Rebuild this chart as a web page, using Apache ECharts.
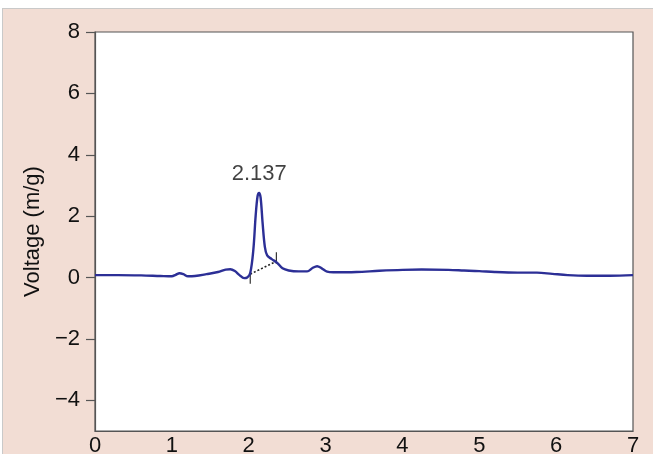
<!DOCTYPE html>
<html>
<head>
<meta charset="utf-8">
<script src="https://cdn.jsdelivr.net/npm/echarts@6/dist/echarts.min.js"></script>
<style>
  html, body { margin: 0; padding: 0; background: #ffffff; width: 653px; height: 454px; overflow: hidden; }
  #frame { position: absolute; left: 2px; top: 8px; right: 0; bottom: 0; background: #f2ddd4; border-left: 1px solid #c9c9c9; border-top: 1px solid #c9c9c9; }
  #chart { position: absolute; left: 0; top: 0; width: 653px; height: 454px; }
</style>
</head>
<body>
<div id="frame"></div>
<div id="chart"></div>
<script>
// Time (s) and voltage samples
const timeValues = [0, 0.3, 0.6, 0.85, 1.0, 1.05, 1.10, 1.15, 1.21, 1.3, 1.45, 1.6, 1.70, 1.76, 1.82, 1.88, 1.94, 1.98, 2.02, 2.06, 2.09, 2.115, 2.135, 2.155, 2.18, 2.21, 2.24, 2.30, 2.37, 2.44, 2.52, 2.65, 2.76, 2.83, 2.89, 2.95, 3.02, 3.1, 3.4, 3.7, 4.0, 4.25, 4.6, 4.8, 5.0, 5.2, 5.5, 5.75, 5.95, 6.15, 6.4, 6.7, 7.0];
const voltageValues = [0.08, 0.08, 0.07, 0.05, 0.04, 0.09, 0.14, 0.11, 0.04, 0.05, 0.11, 0.18, 0.26, 0.27, 0.21, 0.08, -0.02, 0.0, 0.15, 0.9, 2.0, 2.65, 2.76, 2.6, 1.8, 1.0, 0.72, 0.6, 0.48, 0.30, 0.23, 0.20, 0.20, 0.31, 0.37, 0.30, 0.19, 0.17, 0.18, 0.22, 0.25, 0.26, 0.25, 0.23, 0.21, 0.18, 0.16, 0.16, 0.12, 0.08, 0.06, 0.06, 0.08];

// Dotted baseline between the two markers
const baselineX = [2.02, 2.36];
const baselineY = [0.11, 0.53];
// Marker ticks: [x, yLow, yHigh]
const markerTicks = [[2.02, -0.2, 0.17], [2.36, 0.45, 0.82]];

// Peak annotation
const peakX = 2.137;
const peakY = 2.76;
const peakText = '2.137';

// Axis ticks
const xTicks = [0, 1, 2, 3, 4, 5, 6, 7];
const yTicks = [-4, -2, 0, 2, 4, 6, 8];

const FONT = "'Liberation Sans', Arial, Helvetica, sans-serif";
const TXT = '#111111';

const chart = echarts.init(document.getElementById('chart'), null, { renderer: 'canvas' });

const seriesList = [
  {
    type: 'line',
    data: timeValues.map((t, i) => [t, voltageValues[i]]),
    smooth: 0.35,
    showSymbol: false,
    symbol: 'none',
    lineStyle: { color: '#2c2f96', width: 2.4 },
    z: 5
  },
  {
    type: 'line',
    data: baselineX.map((x, i) => [x, baselineY[i]]),
    showSymbol: false,
    symbol: 'none',
    lineStyle: { color: '#222222', width: 1.6, type: [2, 2] },
    z: 4
  }
];
markerTicks.forEach(tk => {
  seriesList.push({
    type: 'line',
    data: [[tk[0], tk[1]], [tk[0], tk[2]]],
    showSymbol: false,
    symbol: 'none',
    lineStyle: { color: '#333333', width: 1.2 },
    z: 4
  });
});
seriesList.push({
  type: 'scatter',
  data: [[peakX, peakY]],
  symbolSize: 0,
  label: {
    show: true,
    position: 'top',
    distance: 8,
    formatter: peakText,
    fontFamily: FONT,
    fontSize: 22,
    color: TXT
  },
  z: 6
});

chart.setOption({
  animation: false,
  backgroundColor: 'transparent',
  grid: {
    left: 95, top: 32, right: 20, bottom: 23,
    outerBoundsMode: 'none',
    containLabel: false,
    show: true,
    backgroundColor: '#ffffff',
    borderColor: '#555555',
    borderWidth: 1.2
  },
  xAxis: {
    type: 'value',
    min: 0, max: 7, interval: 1,
    axisLine: { show: true, onZero: false, lineStyle: { color: '#555555', width: 1.2 } },
    axisTick: { show: false },
    splitLine: { show: false },
    axisLabel: {
      margin: 4,
      fontFamily: FONT, fontSize: 22, color: TXT,
      customValues: xTicks
    }
  },
  yAxis: {
    type: 'value',
    min: -5, max: 8,
    name: 'Voltage (m/g)',
    nameLocation: 'middle',
    nameGap: 49,
    nameTextStyle: { fontFamily: FONT, fontSize: 22, color: TXT },
    axisLine: { show: true, onZero: false, lineStyle: { color: '#555555', width: 1.2 } },
    axisTick: { show: true, length: 9, lineStyle: { color: '#555555', width: 1.2 }, customValues: yTicks },
    splitLine: { show: false },
    axisLabel: {
      margin: 15,
      fontFamily: FONT, fontSize: 22, color: TXT,
      customValues: yTicks,
      formatter: v => (v < 0 ? '\u2212' + Math.abs(v) : String(v))
    }
  },
  series: seriesList
});
</script>
</body>
</html>
